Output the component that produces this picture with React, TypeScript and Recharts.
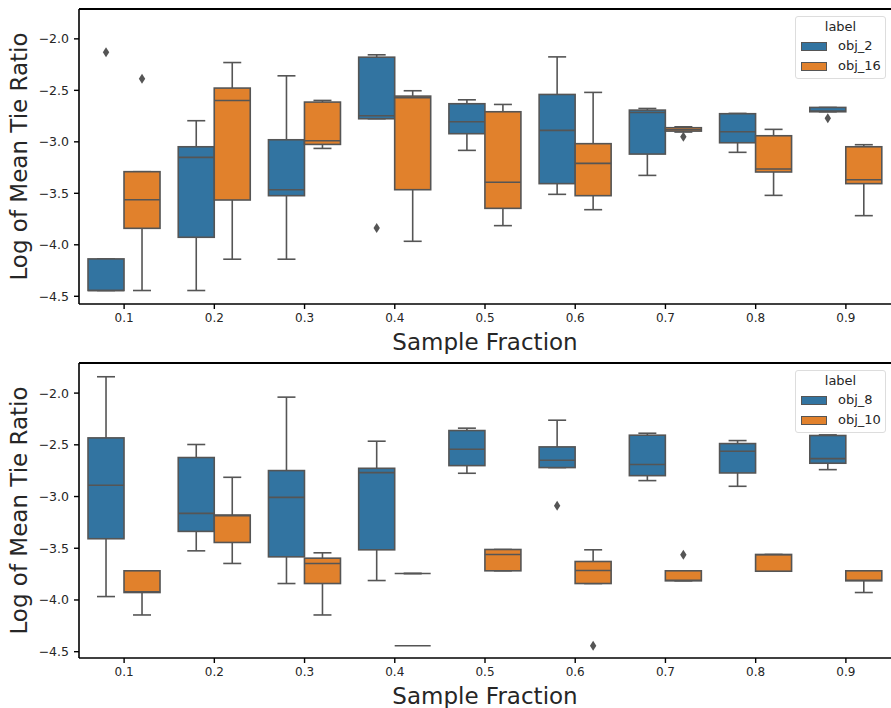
import React from 'react';
import { ComposedChart, Bar, XAxis, YAxis, ReferenceLine } from 'recharts';

const fractions = ['0.1', '0.2', '0.3', '0.4', '0.5', '0.6', '0.7', '0.8', '0.9'];
const yTicks = [-4.5, -4.0, -3.5, -3.0, -2.5, -2.0];

// ---- Top panel: obj_2 ----
const obj2Low = [-4.444, -4.444, -4.14, -2.776, -3.083, -3.51, -3.326, -3.102, -2.708];
const obj2Q1 = [-4.444, -3.927, -3.523, -2.776, -2.921, -3.406, -3.119, -3.009, -2.708];
const obj2Median = [-4.444, -3.151, -3.465, -2.747, -2.805, -2.889, -2.715, -2.902, -2.7];
const obj2Q3 = [-4.137, -3.048, -2.98, -2.178, -2.63, -2.54, -2.692, -2.727, -2.666];
const obj2High = [-4.137, -2.795, -2.359, -2.155, -2.592, -2.175, -2.676, -2.724, -2.666];
const obj2Outliers = [[-2.13], [], [], [-3.836], [], [], [], [], [-2.77]];

// ---- Top panel: obj_16 ----
const obj16Low = [-4.444, -4.14, -3.064, -3.966, -3.814, -3.659, -2.905, -3.52, -3.717];
const obj16Q1 = [-3.84, -3.565, -3.025, -3.465, -3.646, -3.523, -2.896, -3.293, -3.406];
const obj16Median = [-3.562, -2.598, -2.989, -2.572, -3.393, -3.209, -2.883, -3.264, -3.368];
const obj16Q3 = [-3.29, -2.478, -2.614, -2.556, -2.708, -3.018, -2.863, -2.941, -3.048];
const obj16High = [-3.29, -2.23, -2.598, -2.504, -2.637, -2.52, -2.854, -2.879, -3.028];
const obj16Outliers = [[-2.388], [], [], [], [], [], [-2.951], [], []];

// ---- Bottom panel: obj_8 ----
const obj8Low = [-3.967, -3.525, -3.841, -3.812, -2.775, -2.72, -2.846, -2.901, -2.74];
const obj8Q1 = [-3.408, -3.337, -3.583, -3.515, -2.701, -2.72, -2.798, -2.772, -2.678];
const obj8Median = [-2.891, -3.163, -3.008, -2.769, -2.543, -2.649, -2.691, -2.562, -2.633];
const obj8Q3 = [-2.433, -2.623, -2.749, -2.727, -2.362, -2.52, -2.407, -2.488, -2.41];
const obj8High = [-1.842, -2.497, -2.039, -2.465, -2.339, -2.262, -2.388, -2.459, -2.404];
const obj8Outliers = [[], [], [], [], [], [-3.088], [], [], []];

// ---- Bottom panel: obj_10 ----
const obj10Low = [-4.145, -3.647, -4.145, -3.744, -3.718, -3.841, -3.815, -3.722, -3.928];
const obj10Q1 = [-3.928, -3.444, -3.841, -3.744, -3.718, -3.841, -3.815, -3.722, -3.815];
const obj10Median = [-3.92, -3.185, -3.647, -3.744, -3.56, -3.715, -3.809, -3.563, -3.809];
const obj10Q3 = [-3.718, -3.179, -3.596, -3.744, -3.512, -3.628, -3.718, -3.56, -3.718];
const obj10High = [-3.718, -2.814, -3.544, -3.744, -3.512, -3.515, -3.718, -3.56, -3.718];
const obj10Outliers = [[], [], [], [], [], [-4.442], [-3.563], [], []];
const obj10Flats = [[], [], [], [-4.442], [], [], [], [], []];

const BLUE = '#3274a1';
const ORANGE = '#e1812c';
const EDGE = '#555555';
const FONT = "'DejaVu Sans', sans-serif";

type Series = {
  low: number[];
  q1: number[];
  median: number[];
  q3: number[];
  high: number[];
  outliers: number[][];
  flats?: number[][];
};

function pick(s: Series, i: number) {
  const outliers = s.outliers[i];
  const flats = s.flats ? s.flats[i] : [];
  const vals = [s.low[i], s.q1[i], s.median[i], s.q3[i], s.high[i], ...outliers, ...flats];
  return {
    low: s.low[i],
    q1: s.q1[i],
    median: s.median[i],
    q3: s.q3[i],
    high: s.high[i],
    outliers,
    flats,
    min: Math.min(...vals),
    max: Math.max(...vals),
  };
}

function buildRows(a: Series, b: Series) {
  return fractions.map((frac, i) => ({ frac, a: pick(a, i), b: pick(b, i) }));
}

const topRows = buildRows(
  { low: obj2Low, q1: obj2Q1, median: obj2Median, q3: obj2Q3, high: obj2High, outliers: obj2Outliers },
  { low: obj16Low, q1: obj16Q1, median: obj16Median, q3: obj16Q3, high: obj16High, outliers: obj16Outliers }
);
const bottomRows = buildRows(
  { low: obj8Low, q1: obj8Q1, median: obj8Median, q3: obj8Q3, high: obj8High, outliers: obj8Outliers },
  { low: obj10Low, q1: obj10Q1, median: obj10Median, q3: obj10Q3, high: obj10High, outliers: obj10Outliers, flats: obj10Flats }
);

const makeBoxShape = (key: 'a' | 'b', fill: string) => (props: any) => {
  const { x, y, width, height, payload } = props;
  const s = payload[key];
  const top = Math.min(y, y + height);
  const bot = Math.max(y, y + height);
  const span = s.max - s.min;
  const py = (v: number) => (span === 0 ? top : top + ((s.max - v) / span) * (bot - top));
  const cx = x + width / 2;
  const cap = width / 4;
  const sw = 1.6;
  const yq1 = py(s.q1);
  const yq3 = py(s.q3);
  return (
    <g>
      <line x1={cx} x2={cx} y1={py(s.high)} y2={yq3} stroke={EDGE} strokeWidth={sw} />
      <line x1={cx} x2={cx} y1={yq1} y2={py(s.low)} stroke={EDGE} strokeWidth={sw} />
      <line x1={cx - cap} x2={cx + cap} y1={py(s.high)} y2={py(s.high)} stroke={EDGE} strokeWidth={sw} />
      <line x1={cx - cap} x2={cx + cap} y1={py(s.low)} y2={py(s.low)} stroke={EDGE} strokeWidth={sw} />
      {yq1 - yq3 > 0.5 ? (
        <rect x={x} y={yq3} width={width} height={yq1 - yq3} fill={fill} stroke={EDGE} strokeWidth={sw} />
      ) : null}
      <line x1={x} x2={x + width} y1={py(s.median)} y2={py(s.median)} stroke={EDGE} strokeWidth={sw} />
      {s.flats.map((v: number, i: number) => (
        <line key={'f' + i} x1={x} x2={x + width} y1={py(v)} y2={py(v)} stroke={EDGE} strokeWidth={sw} />
      ))}
      {s.outliers.map((v: number, i: number) => {
        const oy = py(v);
        return (
          <path
            key={'o' + i}
            d={`M${cx},${oy - 5} L${cx + 3.2},${oy} L${cx},${oy + 5} L${cx - 3.2},${oy} Z`}
            fill={EDGE}
          />
        );
      })}
    </g>
  );
};

const fmt = (v: number) => v.toFixed(1).replace('-', '\u2212');

function LegendBox({ names }: { names: string[] }) {
  const row = (name: string, color: string, top: number) => (
    <div style={{ position: 'absolute', left: 0, top, height: 20, width: 91 }}>
      <div
        style={{
          position: 'absolute',
          left: 5,
          top: 5,
          width: 26,
          height: 9,
          background: color,
          border: `1px solid ${EDGE}`,
          boxSizing: 'border-box',
        }}
      />
      <span style={{ position: 'absolute', left: 42, top: 1, fontSize: 13, lineHeight: '16px', color: '#262626' }}>
        {name}
      </span>
    </div>
  );
  return (
    <div
      style={{
        position: 'absolute',
        left: 795,
        top: 16,
        width: 91,
        height: 63,
        border: '1px solid #dddddd',
        borderRadius: 3,
        background: 'rgba(255,255,255,0.85)',
        boxSizing: 'border-box',
        fontFamily: FONT,
      }}
    >
      <div style={{ position: 'absolute', left: 0, width: 89, top: 2, textAlign: 'center', fontSize: 13, lineHeight: '16px', color: '#262626' }}>
        label
      </div>
      {row(names[0], BLUE, 20)}
      {row(names[1], ORANGE, 40)}
    </div>
  );
}

function Panel({ rows, domain, names }: { rows: any[]; domain: [number, number]; names: string[] }) {
  return (
    <div style={{ position: 'relative', width: 891, height: 354 }}>
      <ComposedChart
        width={891}
        height={354}
        data={rows}
        margin={{ top: 9, right: 0, bottom: 20, left: 0 }}
        barCategoryGap="10%"
        barGap={0}
      >
        <XAxis
          dataKey="frac"
          type="category"
          height={30}
          interval={0}
          tickSize={5}
          tickMargin={4}
          axisLine={{ stroke: '#000', strokeWidth: 1.6 }}
          tickLine={{ stroke: '#000', strokeWidth: 1.4 }}
          tick={{ fill: '#262626', fontSize: 12, fontFamily: FONT }}
          label={(p: any) => {
            const vb = p.viewBox || {};
            return (
              <text
                x={vb.x + vb.width / 2}
                y={vb.y + 37.7}
                textAnchor="middle"
                dominantBaseline="central"
                fontSize={23}
                fontFamily={FONT}
                fill="#262626"
              >
                Sample Fraction
              </text>
            );
          }}
        />
        <YAxis
          type="number"
          domain={domain}
          allowDataOverflow
          ticks={yTicks}
          tickFormatter={fmt}
          width={79}
          tickSize={5}
          tickMargin={5}
          axisLine={{ stroke: '#000', strokeWidth: 1.6 }}
          tickLine={{ stroke: '#000', strokeWidth: 1.4 }}
          tick={{ fill: '#262626', fontSize: 12.5, fontFamily: FONT }}
          label={(p: any) => {
            const vb = p.viewBox || {};
            const cy = vb.y + vb.height / 2;
            return (
              <text
                x={19}
                y={cy}
                transform={`rotate(-90, 19, ${cy})`}
                textAnchor="middle"
                dominantBaseline="central"
                fontSize={23}
                fontFamily={FONT}
                fill="#262626"
              >
                Log of Mean Tie Ratio
              </text>
            );
          }}
        />
        <ReferenceLine y={domain[1]} stroke="#000" strokeWidth={1.8} ifOverflow="visible" />
        <Bar
          dataKey={(r: any) => [r.a.min, r.a.max]}
          name={names[0]}
          fill={BLUE}
          isAnimationActive={false}
          shape={makeBoxShape('a', BLUE)}
        />
        <Bar
          dataKey={(r: any) => [r.b.min, r.b.max]}
          name={names[1]}
          fill={ORANGE}
          isAnimationActive={false}
          shape={makeBoxShape('b', ORANGE)}
        />
      </ComposedChart>
      <LegendBox names={names} />
    </div>
  );
}

export default function App() {
  return (
    <div style={{ position: 'absolute', left: 0, top: 0, width: 891, height: 708, background: '#fff', fontFamily: FONT }}>
      <Panel rows={topRows} domain={[-4.575, -1.71]} names={['obj_2', 'obj_16']} />
      <Panel rows={bottomRows} domain={[-4.561, -1.709]} names={['obj_8', 'obj_10']} />
    </div>
  );
}
